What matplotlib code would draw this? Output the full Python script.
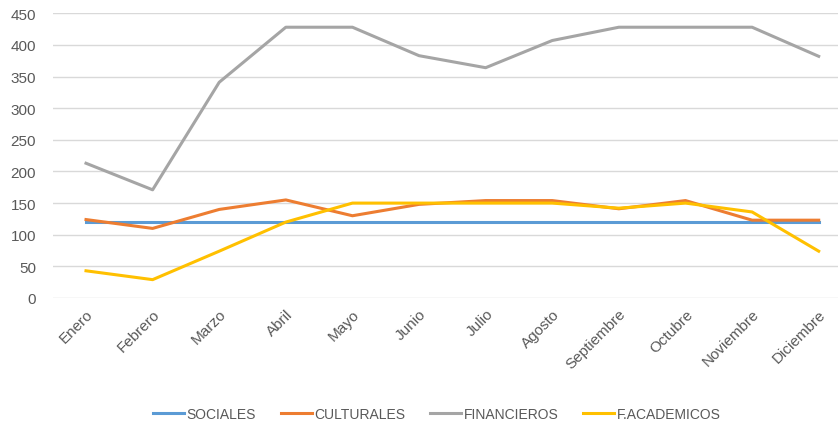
import numpy as np
import matplotlib.pyplot as plt

meses = ["Enero", "Febrero", "Marzo", "Abril", "Mayo", "Junio", "Julio",
         "Agosto", "Septiembre", "Octubre", "Noviembre", "Diciembre"]
sociales = [120, 120, 120, 120, 120, 120, 120, 120, 120, 120, 120, 120]
culturales = [124, 110, 140, 155, 130, 148, 154, 154, 141, 154, 123, 123]
financieros = [213, 171, 341, 428, 428, 383, 364, 407, 428, 428, 428, 382]
academicos = [43, 29, 74, 120, 150, 150, 150, 150, 142, 150, 136, 74]

plt.rcParams['font.family'] = ['Liberation Sans', 'DejaVu Sans']

fig = plt.figure(figsize=(8.38, 4.27), dpi=100)
ax = fig.add_axes([52.7 / 838, 128 / 427, 799.3 / 838, 284.7 / 427])

x = np.arange(len(meses))
ax.plot(x, sociales, color='#5B9BD5', lw=2.2, label='SOCIALES')
ax.plot(x, culturales, color='#ED7D31', lw=2.2, label='CULTURALES')
ax.plot(x, financieros, color='#A5A5A5', lw=2.2, label='FINANCIEROS')
ax.plot(x, academicos, color='#FFC000', lw=2.2, label='F.ACADEMICOS')

ax.set_xlim(-0.5, 11.5)
ax.set_ylim(0, 450)
ax.set_yticks(np.arange(0, 451, 50))
ax.grid(axis='y', color='#D9D9D9', lw=1)
ax.set_axisbelow(True)
for s in ax.spines.values():
    s.set_visible(False)
ax.tick_params(length=0, colors='#595959', labelsize=11)
ax.tick_params(axis='y', pad=12)
ax.set_xticks(x)
ax.set_xticklabels(meses, rotation=45, ha='right', rotation_mode='anchor')
ax.tick_params(axis='x', pad=6)

fig.legend(loc='center', bbox_to_anchor=(437 / 838, 1 - 415 / 427), ncol=4,
           frameon=False, fontsize=10, labelcolor='#595959',
           handlelength=2.2, handletextpad=0.2, columnspacing=1.8)

fig.savefig('out.png', dpi=100)
